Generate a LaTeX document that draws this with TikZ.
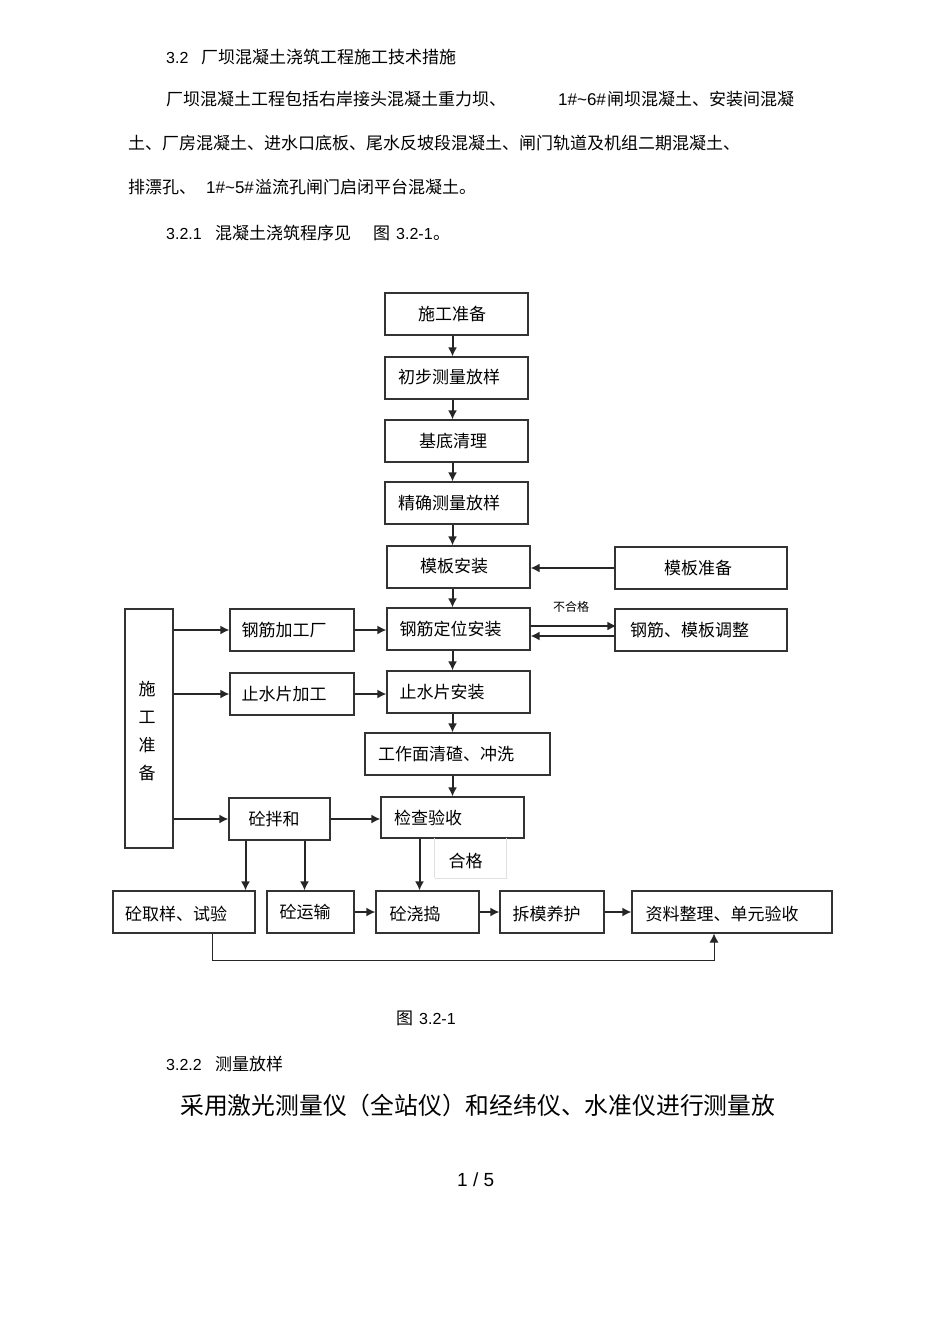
\documentclass[tikz,border=0pt]{standalone}
\usepackage{fontspec}
\setmainfont{Noto Sans CJK SC}
\newfontfamily\lat{Liberation Sans}
\usepackage{tikz}
\usetikzlibrary{arrows.meta}
\newcommand{\sht}[3][0]{\raisebox{#1pt}[\height][\depth]{#3}\kern#2pt}
\begin{document}
\begin{tikzpicture}[x=1pt,y=-1pt,
  box/.style = {draw, line width=1.1pt, color=black!80, text=black, inner sep=0pt, font=\fontsize{17}{20}\selectfont},
  line/.style = {anchor=base west, inner sep=0pt, font=\fontsize{17}{20}\selectfont},
  arr/.style = {line width=2pt, color=black!85, -{Latex[length=9pt,width=9pt]}},
  flow/.style = {box, minimum width=143pt, minimum height=42pt},
  node distance=63pt]
\useasboundingbox (0,0) rectangle (950,1344);
% text above
\node[line] (t1a) at (166,63) {\lat\fontsize{16}{20}\selectfont 3.2};
\node[line] (t1b) at (201,63) {厂坝混凝土浇筑工程施工技术措施};
\node[line] (t2a) at (166,105) {厂坝混凝土工程包括右岸接头混凝土重力坝、};
\node[line] (t2b) at (558,105) {\lat 1\#\textasciitilde6\#};
\node[line] (t2c) at (607,105) {闸坝混凝土、安装间混凝};
\node[line] (t3) at (128,149) {土、厂房混凝土、进水口底板、尾水反坡段混凝土、闸门轨道及机组二期混凝土、};
\node[line] (t4a) at (128,193) {排漂孔、};
\node[line] (t4b) at (206,193) {\lat 1\#\textasciitilde5\#};
\node[line] (t4c) at (255,193) {溢流孔闸门启闭平台混凝土。};
\node[line] (t5a) at (166,239) {\lat\fontsize{16}{20}\selectfont 3.2.1};
\node[line] (t5b) at (215,239) {混凝土浇筑程序见};
\node[line] (t5c) at (373,239) {图};
\node[line] (t5d) at (396,239) {\lat\fontsize{16}{20}\selectfont 3.2-1};
\node[line] (t5e) at (433,239) {。};
% main column
\node[flow] (sgzb) at (456.5,314) {\sht{9}{施工准备}};
\node[flow] (cbcl) [below of=sgzb, yshift=-1pt] {\sht[1]{15}{初步测量放样}};
\node[flow] (jdql) [below of=cbcl] {\sht{7}{基底清理}};
\node[flow] (jqcl) [below of=jdql, yshift=1pt] {\sht{15}{精确测量放样}};
\node[flow] (mbaz) at (458.5,567) {\sht[1]{9}{模板安装}};
\node[flow] (gjaz) [below of=mbaz, yshift=1pt] {\sht{16}{钢筋定位安装}};
\node[flow] (szaz) [below of=gjaz] {\sht{33}{止水片安装}};
\node[box, minimum width=185pt, minimum height=42pt] (gzm) at (457.5,754) {\sht{23}{工作面清碴、冲洗}};
\node[box, minimum width=143pt, minimum height=41pt] (jcys) at (452.5,817.5) {\sht{49}{检查验收}};
% right side
\node[box, minimum width=172pt, minimum height=42pt] (mbzb) at (701,568) {\sht{6}{模板准备}};
\node[box, minimum width=172pt, minimum height=42pt] (gjtz) at (701,630) {\sht{23}{钢筋、模板调整}};
\node[inner sep=0pt, font=\fontsize{12}{14}\selectfont] (bhg) at (571,607) {不合格};
% left side
\node[box, minimum width=48pt, minimum height=239pt, align=center, font=\fontsize{17}{28}\selectfont] (sgzb2) at (149,728.5) {\rule{0pt}{20pt}\sht{4}{施}\\\sht{4}{工}\\\sht{4}{准}\\\sht{4}{备}};
\node[box, minimum width=124pt, minimum height=42pt] (gjjg) at (292,630) {\sht{16}{钢筋加工厂}};
\node[box, minimum width=124pt, minimum height=42pt] (szpj) at (292,694) {\sht{16}{止水片加工}};
\node[box, minimum width=101pt, minimum height=42pt] (tbh) at (279.5,819) {\sht{11}{砼拌和}};
% pass label
\node[font=\fontsize{17}{20}\selectfont, inner sep=0pt, minimum width=71pt, minimum height=40pt] (hg) at (470.5,858) {\sht[-3]{10}{合格}};
\draw[black!12, line width=0.8pt] (hg.south west) -- (hg.north west);
\draw[black!12, line width=0.8pt] (hg.south west) -- (hg.south east) -- (hg.north east);
% bottom row
\node[box, minimum width=142pt, minimum height=42pt] (qysy) at (184,912) {\sht[-2]{16}{砼取样、试验}};
\node[box, minimum width=87pt, minimum height=42pt] (ysh) at (310.5,912) {\sht{11}{砼运输}};
\node[box, minimum width=103pt, minimum height=42pt] (jd) at (427.5,912) {\sht[-2]{25}{砼浇捣}};
\node[box, minimum width=104pt, minimum height=42pt] (cmyh) at (552,912) {\sht[-2]{11}{拆模养护}};
\node[box, minimum width=200pt, minimum height=42pt] (zl) at (732,912) {\sht[-2]{20}{资料整理、单元验收}};
% arrows, main column
\draw[arr] ([xshift=-4pt]sgzb.south) -- ([xshift=-4pt]cbcl.north);
\draw[arr] ([xshift=-4pt]cbcl.south) -- ([xshift=-4pt]jdql.north);
\draw[arr] ([xshift=-4pt]jdql.south) -- ([xshift=-4pt]jqcl.north);
\draw[arr] ([xshift=-4pt]jqcl.south) -- ([xshift=-6pt]mbaz.north);
\draw[arr] ([xshift=-6pt]mbaz.south) -- ([xshift=-6pt]gjaz.north);
\draw[arr] ([xshift=-6pt]gjaz.south) -- ([xshift=-6pt]szaz.north);
\draw[arr] ([xshift=-6pt]szaz.south) -- ([xshift=-5pt]gzm.north);
\draw[arr] ([xshift=-5pt]gzm.south) -- (jcys.north);
% arrows, sides
\draw[arr] (mbzb) -- (mbaz.east |- mbzb);
\draw[arr] ([yshift=3pt]gjaz.east) -- ([yshift=3pt,xshift=2pt]gjaz.east -| gjtz.west);
\draw[arr] ([yshift=-7pt]gjaz.east -| gjtz.west) -- ([yshift=-7pt]gjaz.east);
\draw[arr] (sgzb2.east |- gjjg) -- (gjjg);
\draw[arr] (gjjg) -- (gjaz.west |- gjjg);
\draw[arr] (sgzb2.east |- szpj) -- (szpj);
\draw[arr] (szpj.east) -- (szaz.west |- szpj.east);
\draw[arr] (sgzb2.east |- tbh) -- (tbh);
\draw[arr] (tbh) -- (jcys.west |- tbh);
\draw[arr] ([xshift=-34pt]tbh.south) -- ([xshift=-34pt]tbh.south |- qysy.north);
\draw[arr] ([xshift=25pt]tbh.south) -- ([xshift=25pt]tbh.south |- ysh.north);
\draw[arr] ([xshift=-33pt]jcys.south) -- ([xshift=-33pt]jcys.south |- jd.north);
\draw[arr] (ysh) -- (jd);
\draw[arr] (jd) -- (cmyh);
\draw[arr] (cmyh) -- (zl);
\coordinate (low) at (212,960);
\draw[line width=1pt, color=black!85, -{Latex[length=9pt,width=9pt]}] ([xshift=28pt]qysy.south) |- (low) -| ([xshift=-18pt]zl.south);
% text below
\node[line] (cap) at (396,1024) {图};
\node[line] (capn) at (419,1024) {\lat\fontsize{16}{20}\selectfont 3.2-1};
\node[line] (t6a) at (166,1070) {\lat\fontsize{16}{20}\selectfont 3.2.2};
\node[line] (t6b) at (215,1070) {测量放样};
\node[line, font=\fontsize{23.8}{26}\selectfont] (t7) at (180,1114) {采用激光测量仪（全站仪）和经纬仪、水准仪进行测量放};
\node[line] (pg) at (457,1186) {\lat\fontsize{19}{22}\selectfont 1 / 5};
\end{tikzpicture}
\end{document}
